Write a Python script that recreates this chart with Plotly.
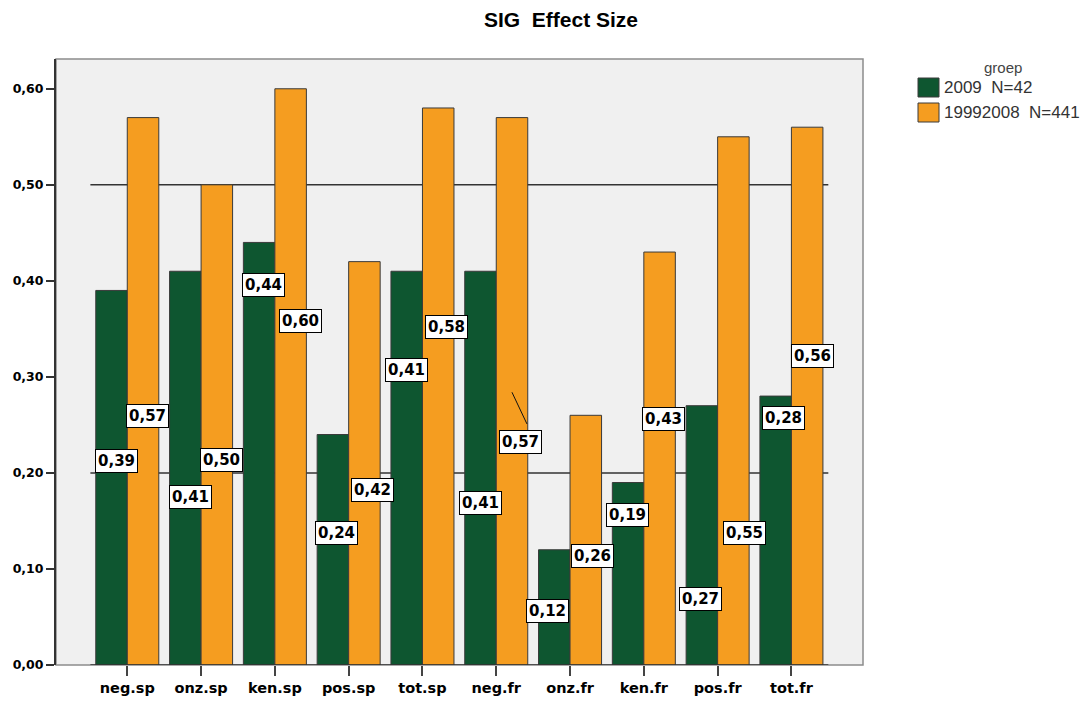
import plotly.graph_objects as go

categories = ["neg.sp", "onz.sp", "ken.sp", "pos.sp", "tot.sp",
              "neg.fr", "onz.fr", "ken.fr", "pos.fr", "tot.fr"]
series_2009 = [0.39, 0.41, 0.44, 0.24, 0.41, 0.41, 0.12, 0.19, 0.27, 0.28]
series_1999 = [0.57, 0.50, 0.60, 0.42, 0.58, 0.57, 0.26, 0.43, 0.55, 0.56]
name_2009 = "2009  N=42"
name_1999 = "19992008  N=441"
legend_title = "groep"
ref_lines = [0.50, 0.20]
y_ticks = [0.0, 0.1, 0.2, 0.3, 0.4, 0.5, 0.6]
y_tick_labels = ["0,00", "0,10", "0,20", "0,30", "0,40", "0,50", "0,60"]

# label positions (category units / value units) as placed in the reference
lbl_x_2009 = [-0.14, 0.85, 1.84, 2.83, 3.78, 4.78, 5.70, 6.785, 7.773, 8.898]
lbl_y_2009 = [0.2125, 0.175, 0.396, 0.1375, 0.307, 0.169, 0.056, 0.156, 0.069, 0.257]
lbl_x_1999 = [0.28, 1.283, 2.354, 3.329, 4.331, 5.334, 6.31, 7.272, 8.369, 9.291]
lbl_y_1999 = [0.259, 0.2135, 0.358, 0.182, 0.352, 0.232, 0.1135, 0.256, 0.1375, 0.322]

green = "#0e5630"
orange = "#f59d20"
edge = "#3a3a3a"

W, H = 1089, 704
ML, MR, MT, MB = 56, 226, 59, 39
PW, PH = W - ML - MR, H - MT - MB

def px_x(px):
    return (px - ML) / PW

def px_y(py):
    return (H - MB - py) / PH

def fmt(v):
    return f"{v:.2f}".replace(".", ",")

fig = go.Figure()
fig.add_trace(go.Bar(x=categories, y=series_2009, name=name_2009,
                     marker=dict(color=green, line=dict(color=edge, width=1))))
fig.add_trace(go.Bar(x=categories, y=series_1999, name=name_1999,
                     marker=dict(color=orange, line=dict(color=edge, width=1))))

shapes = []
for r in ref_lines:
    shapes.append(dict(type="line", xref="x", yref="y", x0=-0.5, x1=len(categories) - 0.5,
                       y0=r, y1=r, line=dict(color="#333333", width=1.5), layer="below"))
shapes.append(dict(type="line", xref="x", yref="y", x0=-0.5, x1=len(categories) - 0.5,
                   y0=0, y1=0, line=dict(color="#333333", width=1.5), layer="above"))
shapes.append(dict(type="rect", xref="paper", yref="paper", x0=0, x1=1, y0=0, y1=1,
                   line=dict(color="#8c8c8c", width=1.5), layer="below"))
shapes.append(dict(type="line", xref="x", yref="y", x0=5.213, y0=0.284, x1=5.416, y1=0.251,
                   line=dict(color="#111111", width=1)))

annotations = []
for xs, ys, vals in ((lbl_x_2009, lbl_y_2009, series_2009), (lbl_x_1999, lbl_y_1999, series_1999)):
    for x, y, v in zip(xs, ys, vals):
        annotations.append(dict(x=x, y=y, xref="x", yref="y", text=fmt(v), showarrow=False,
                                font=dict(family="DejaVu Sans", size=15, color="black", weight="bold"),
                                bgcolor="white", bordercolor="black", borderwidth=1, borderpad=2))

# custom legend (swatches + text)
legend_items = [(name_2009, green, 78), (name_1999, orange, 103)]
for name, col, top in legend_items:
    shapes.append(dict(type="rect", xref="paper", yref="paper",
                       x0=px_x(918), x1=px_x(939), y0=px_y(top + 19), y1=px_y(top),
                       fillcolor=col, line=dict(color=edge, width=1)))
    annotations.append(dict(x=px_x(942), y=px_y(top + 9.5), xref="paper", yref="paper",
                            xanchor="left", yanchor="middle", text=name, showarrow=False,
                            font=dict(family="Liberation Sans", size=17, color="#333333")))
annotations.append(dict(x=px_x(1003), y=px_y(67), xref="paper", yref="paper",
                        xanchor="center", yanchor="middle", text=legend_title, showarrow=False,
                        font=dict(family="Liberation Sans", size=15, color="#444444")))

fig.update_layout(
    width=W, height=H,
    margin=dict(l=ML, r=MR, t=MT, b=MB, autoexpand=False),
    paper_bgcolor="white", plot_bgcolor="#f0f0f0",
    barmode="group", bargap=0.146, bargroupgap=0,
    title=dict(text="SIG  Effect Size", x=561 / W, xanchor="center",
               y=1 - 20 / H, yanchor="middle", xref="container", yref="container",
               font=dict(family="Liberation Sans", size=21, color="black", weight="bold")),
    showlegend=False,
    shapes=shapes, annotations=annotations,
)
fig.update_xaxes(range=[-0.966, 9.97], showgrid=False, zeroline=False, showline=False,
                 automargin=False,
                 ticks="outside", ticklen=10, tickcolor="#444444", tickwidth=1.5,
                 tickfont=dict(family="DejaVu Sans", size=14.5, color="black", weight="bold"))
fig.update_yaxes(range=[0, 0.631], showgrid=False, zeroline=False, showline=True,
                 automargin=False,
                 linecolor="#333333", linewidth=2,
                 tickvals=y_ticks, ticktext=y_tick_labels,
                 ticks="outside", ticklen=8, tickcolor="#333333", tickwidth=2,
                 tickfont=dict(family="DejaVu Sans", size=12.5, color="black", weight="bold"))

fig.write_html("out.html",
               config={"displayModeBar": False},
               post_script="document.body.style.margin='0px';document.body.style.overflow='hidden';")
